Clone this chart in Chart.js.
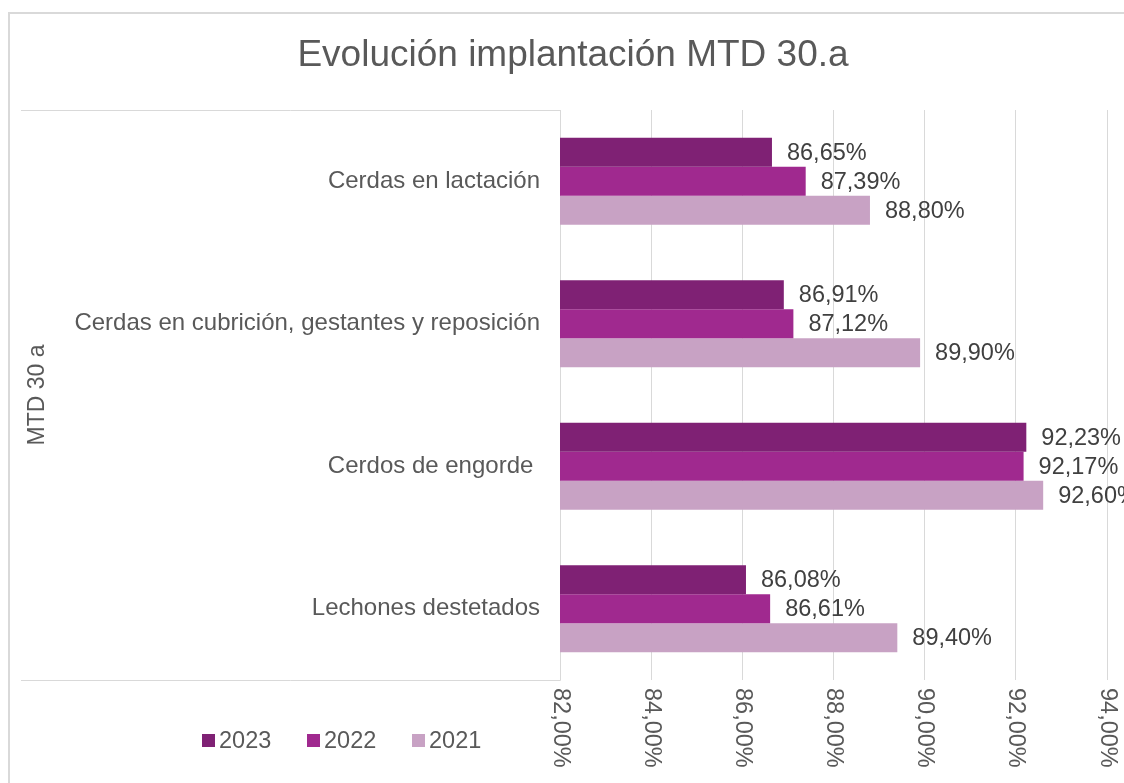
<!DOCTYPE html>
<html>
<head>
<meta charset="utf-8">
<title>Evolución implantación MTD 30.a</title>
<script src="https://cdn.jsdelivr.net/npm/chart.js@4/dist/chart.umd.min.js"></script>
<style>
  html, body { margin: 0; padding: 0; background: #ffffff; }
  #wrap { width: 1124px; height: 783px; position: relative; }
</style>
</head>
<body>
<div id="wrap"><canvas id="mtd-chart"></canvas></div>
<script>
  'use strict';

  // Datos
  const chartTitle = 'Evolución implantación MTD 30.a';
  const categories = ['Cerdas en lactación', 'Cerdas en cubrición, gestantes y reposición', 'Cerdos de engorde ', 'Lechones destetados'];
  const years = ['2023', '2022', '2021'];
  const values2023 = [86.65, 86.91, 92.23, 86.08];
  const values2022 = [87.39, 87.12, 92.17, 86.61];
  const values2021 = [88.80, 89.90, 92.60, 89.40];
  const xMin = 82, xMax = 94, xStep = 2;

  const colors = ['#7f2174', '#a0298f', '#c8a2c4'];
  const gridColor = '#d9d9d9';
  const textColor = '#595959';
  const fontFamily = '"Liberation Sans", Arial, sans-serif';

  Chart.defaults.font.family = fontFamily;
  Chart.defaults.color = textColor;

  const pct = v => v.toFixed(2).replace('.', ',') + '%';

  // Marco, título, caja de categorías, etiquetas de datos, eje X y leyenda
  const decorations = {
    id: 'decorations',
    beforeDraw(chart) {
      const ctx = chart.ctx;
      const area = chart.chartArea;
      ctx.save();
      ctx.strokeStyle = gridColor;
      ctx.lineWidth = 2;
      ctx.beginPath();
      ctx.moveTo(9, chart.height);
      ctx.lineTo(9, 13);
      ctx.lineTo(chart.width, 13);
      ctx.stroke();

      ctx.lineWidth = 1;
      ctx.beginPath();
      ctx.moveTo(21, Math.round(area.top) + 0.5);
      ctx.lineTo(Math.round(area.left) + 0.5, Math.round(area.top) + 0.5);
      ctx.lineTo(Math.round(area.left) + 0.5, Math.round(area.bottom) + 0.5);
      ctx.lineTo(21, Math.round(area.bottom) + 0.5);
      ctx.stroke();

      ctx.font = '37px ' + fontFamily;
      ctx.fillStyle = textColor;
      ctx.textAlign = 'center';
      ctx.textBaseline = 'middle';
      ctx.fillText(chartTitle, 573, 56);
      ctx.restore();
    },
    afterDraw(chart) {
      const ctx = chart.ctx;
      const area = chart.chartArea;
      ctx.save();

      // etiquetas de datos
      ctx.font = '23.5px ' + fontFamily;
      ctx.fillStyle = '#404040';
      ctx.textAlign = 'left';
      ctx.textBaseline = 'middle';
      chart.data.datasets.forEach((ds, i) => {
        chart.getDatasetMeta(i).data.forEach((bar, j) => {
          ctx.fillText(pct(ds.data[j]), bar.x + 15, bar.y + 1);
        });
      });

      // ticks del eje X girados
      const xs = chart.scales.x;
      ctx.fillStyle = textColor;
      xs.ticks.forEach(t => {
        ctx.save();
        ctx.translate(xs.getPixelForValue(t.value), area.bottom + 8);
        ctx.rotate(Math.PI / 2);
        ctx.textAlign = 'left';
        ctx.textBaseline = 'middle';
        ctx.fillText(pct(t.value), 0, 0);
        ctx.restore();
      });

      // leyenda
      let lx = 202;
      chart.data.datasets.forEach(ds => {
        ctx.fillStyle = ds.backgroundColor;
        ctx.fillRect(lx, 734, 13, 13);
        ctx.fillStyle = textColor;
        ctx.textAlign = 'left';
        ctx.textBaseline = 'middle';
        ctx.fillText(ds.label, lx + 17, 742);
        lx += 105;
      });
      ctx.restore();
    }
  };

  const ctx = document.getElementById('mtd-chart');
  new Chart(ctx, {
    type: 'bar',
    data: {
      labels: categories,
      datasets: [
        { label: years[0], data: values2023, backgroundColor: colors[0] },
        { label: years[1], data: values2022, backgroundColor: colors[1] },
        { label: years[2], data: values2021, backgroundColor: colors[2] }
      ].map(ds => Object.assign(ds, { barPercentage: 1, categoryPercentage: 0.61, borderWidth: 0 }))
    },
    options: {
      indexAxis: 'y',
      responsive: true,
      maintainAspectRatio: false,
      animation: false,
      layout: { padding: { left: 0, right: 17, top: 110, bottom: 103 } },
      scales: {
        x: {
          min: xMin,
          max: xMax,
          ticks: { stepSize: xStep, display: false },
          grid: { color: gridColor, drawTicks: false },
          border: { display: false },
          afterFit: s => { s.height = 0; }
        },
        y: {
          grid: { display: false, drawTicks: false },
          border: { display: false },
          ticks: { padding: 20, color: textColor, font: { size: 24 } },
          title: { display: true, text: 'MTD 30 a', color: textColor, font: { size: 23 }, padding: { top: 24, bottom: 0 } },
          afterFit: s => { s.width = 560; }
        }
      },
      plugins: {
        legend: { display: false },
        tooltip: { enabled: false },
        title: { display: false }
      }
    },
    plugins: [decorations]
  });
</script>
</body>
</html>
